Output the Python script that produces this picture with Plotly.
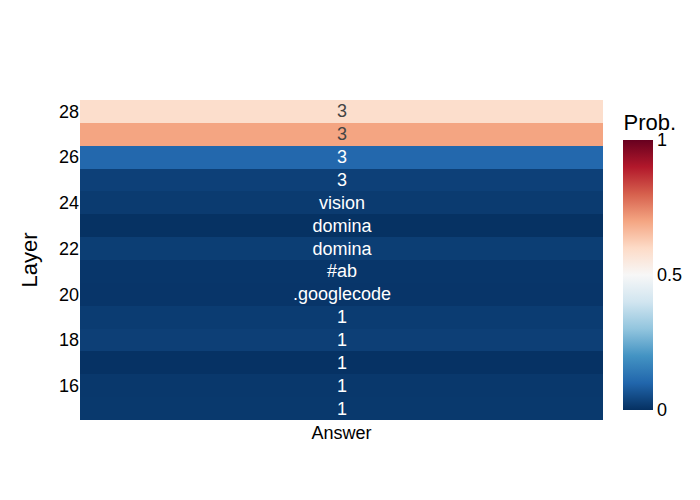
import plotly.graph_objects as go

layers = [15, 16, 17, 18, 19, 20, 21, 22, 23, 24, 25, 26, 27, 28]
answers = ["1", "1", "1", "1", "1", ".googlecode", "#ab", "domina", "domina", "vision", "3", "3", "3", "3"]
probs = [0.016, 0.015, 0.004, 0.028, 0.022, 0.01, 0.012, 0.025, 0.003, 0.02, 0.03, 0.105, 0.70, 0.59]
column = ["Answer"]

fig = go.Figure(go.Heatmap(
    z=[[p] for p in probs],
    x=column,
    y=layers,
    text=[[a] for a in answers],
    texttemplate="%{text}",
    textfont=dict(size=18),
    colorscale="RdBu_r",
    zmin=0, zmax=1,
    colorbar=dict(title=dict(text="Prob.", font=dict(size=22)),
                  tickvals=[0, 0.5, 1], ticktext=["0", "0.5", "1"],
                  tickfont=dict(size=18)),
))
fig.update_layout(
    width=700, height=500,
    font=dict(family="Liberation Sans, Arial, sans-serif", size=18, color="black"),
    plot_bgcolor="white", paper_bgcolor="white",
    yaxis=dict(title=dict(text="Layer", font=dict(size=22)), dtick=2, showgrid=False, zeroline=False),
    xaxis=dict(showgrid=False, zeroline=False),
)
fig.write_html("out.html")
